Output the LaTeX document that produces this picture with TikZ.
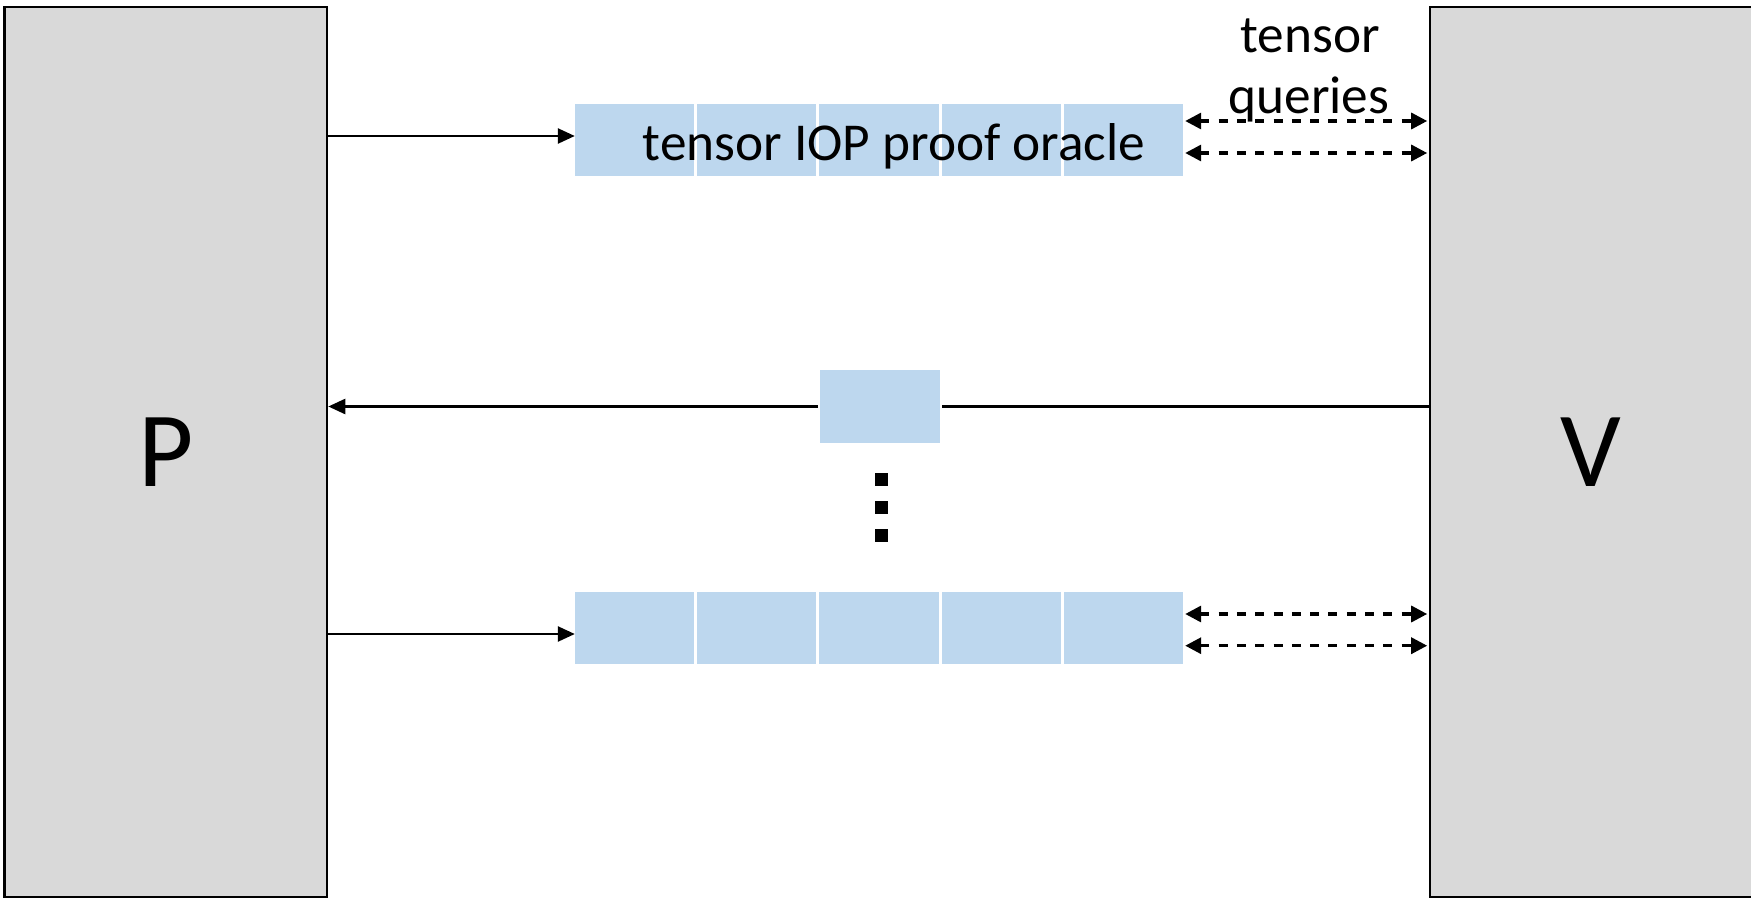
\documentclass[tikz,border=0pt]{standalone}
\usepackage{fontspec}
\setmainfont{Carlito}
\usetikzlibrary{arrows.meta}
\definecolor{boxgray}{HTML}{D9D9D9}
\definecolor{cellblue}{HTML}{BDD7EE}
\begin{document}
\begin{tikzpicture}[x=1pt,y=-1pt,
  party/.style={draw=black, line width=2.6pt, fill=boxgray, inner sep=0pt,
    font=\fontsize{107}{107}\selectfont},
  cell/.style={fill=cellblue, inner sep=0pt, minimum width=119.2pt, minimum height=72pt},
  txt/.style={inner sep=0pt, font=\fontsize{53.3}{60}\selectfont},
  solidarrow/.style={line width=2.5pt, -{Triangle[length=17pt,width=15pt]}},
  dasharrow/.style={line width=3.3pt, dash pattern=on 9pt off 9.3pt,
    {Triangle[length=16pt,width=16pt]}-{Triangle[length=16pt,width=16pt]}},
  dotsq/.style={fill=black, inner sep=0pt, minimum size=13pt}]
\useasboundingbox (0,0) rectangle (1751,902);

% prover and verifier
\node[party, minimum width=322.5pt, minimum height=890pt] (P) at (165.75,452) {P};
\node[party, minimum width=322pt, minimum height=890pt] (V) at (1591,452) {V};

% first and last oracle rows
\foreach \i in {1,...,5} {
  \node[cell] (t\i) at ({634.6+122.2*(\i-1)},140) {};
  \node[cell] (b\i) at ({634.6+122.2*(\i-1)},628) {};
}
% verifier message
\node[cell, minimum width=120pt, minimum height=73pt, outer sep=2pt] (m) at (880,406.5) {};

% vertical ellipsis
\foreach \k/\yy in {1/479,2/507,3/535}
  \node[dotsq] (dot\k) at (881,\yy) {};

% texts
\node[txt, anchor=base] (oracle) at (894,160.7) {tensor IOP proof oracle};
\node[txt, anchor=base] (qa) at (1310,52.5) {tensor};
\node[txt, anchor=base] (qb) at (1309,113) {queries};

% row heights of the connectors
\coordinate (ya) at (0,136);
\coordinate (yb) at (0,634);
\coordinate (yc1) at (0,121);
\coordinate (yc2) at (0,153);
\coordinate (yd1) at (0,614);
\coordinate (yd2) at (0,645.7);

% prover sends oracles
\draw[solidarrow] (P.east |- ya) -- (t1.west |- ya);
\draw[solidarrow] (P.east |- yb) -- (b1.west |- yb);

% verifier message back to prover
\draw[line width=2.5pt] (V.west |- m.east) -- (m.east);
\draw[solidarrow] (m.west) -- (P.east |- m.west);

% tensor queries
\draw[dasharrow, shorten <=2pt, shorten >=1.5pt] (t5.east |- yc1) -- (V.west |- yc1);
\draw[dasharrow, shorten <=2pt, shorten >=1.5pt] (t5.east |- yc2) -- (V.west |- yc2);
\draw[dasharrow, shorten <=2pt, shorten >=1.5pt] (b5.east |- yd1) -- (V.west |- yd1);
\draw[dasharrow, shorten <=2pt, shorten >=1.5pt] (b5.east |- yd2) -- (V.west |- yd2);
\end{tikzpicture}
\end{document}
